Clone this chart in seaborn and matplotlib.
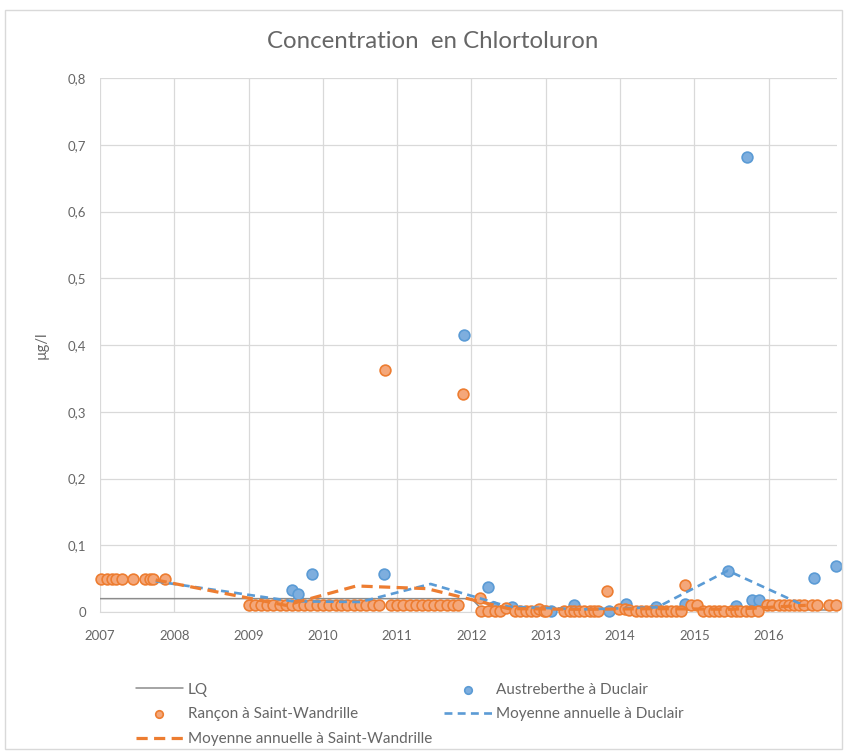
import numpy as np
import pandas as pd
import matplotlib.pyplot as plt
import seaborn as sns
from matplotlib.patches import Rectangle

# --- data (decimal years, µg/l) ---
rancon_x = [2007.02, 2007.09, 2007.16, 2007.22, 2007.29, 2007.45, 2007.60, 2007.67, 2007.71, 2007.87,
            2009.00, 2009.08, 2009.17, 2009.25, 2009.33, 2009.42, 2009.50, 2009.58, 2009.67, 2009.75,
            2009.83, 2009.92, 2010.00, 2010.08, 2010.17, 2010.25, 2010.33, 2010.42, 2010.50, 2010.58,
            2010.67, 2010.75, 2010.83, 2010.92, 2011.00, 2011.08, 2011.17, 2011.25, 2011.33, 2011.42,
            2011.50, 2011.58, 2011.67, 2011.75, 2011.82, 2011.89,
            2012.11, 2012.13, 2012.22, 2012.31, 2012.38, 2012.47, 2012.58, 2012.65, 2012.74, 2012.80,
            2012.87, 2012.91, 2012.98, 2013.00, 2013.25, 2013.32, 2013.38, 2013.45, 2013.52, 2013.59,
            2013.65, 2013.70, 2013.83, 2013.99, 2014.06, 2014.12, 2014.21, 2014.28, 2014.35, 2014.41,
            2014.48, 2014.55, 2014.62, 2014.68, 2014.75, 2014.82, 2014.88, 2014.95, 2015.04, 2015.11,
            2015.20, 2015.27, 2015.33, 2015.40, 2015.49, 2015.56, 2015.62, 2015.69, 2015.76, 2015.85,
            2015.98, 2016.05, 2016.14, 2016.21, 2016.27, 2016.34, 2016.41, 2016.48, 2016.59, 2016.65,
            2016.81, 2016.90]
rancon_y = [0.05, 0.05, 0.05, 0.05, 0.05, 0.05, 0.05, 0.05, 0.05, 0.05,
            0.01, 0.01, 0.01, 0.01, 0.01, 0.01, 0.01, 0.01, 0.01, 0.01,
            0.01, 0.01, 0.01, 0.01, 0.01, 0.01, 0.01, 0.01, 0.01, 0.01,
            0.01, 0.01, 0.363, 0.01, 0.01, 0.01, 0.01, 0.01, 0.01, 0.01,
            0.01, 0.01, 0.01, 0.01, 0.01, 0.327,
            0.021, 0.002, 0.002, 0.002, 0.002, 0.006, 0.002, 0.002, 0.002, 0.002,
            0.002, 0.004, 0.002, 0.002, 0.002, 0.002, 0.002, 0.002, 0.002, 0.002,
            0.002, 0.002, 0.032, 0.005, 0.005, 0.003, 0.002, 0.002, 0.002, 0.002,
            0.002, 0.002, 0.002, 0.002, 0.002, 0.002, 0.040, 0.011, 0.011, 0.002,
            0.002, 0.002, 0.002, 0.002, 0.002, 0.002, 0.002, 0.002, 0.002, 0.002,
            0.010, 0.010, 0.010, 0.010, 0.010, 0.010, 0.010, 0.010, 0.010, 0.010,
            0.010, 0.010]

duclair_x = [2009.59, 2009.67, 2009.85, 2010.82, 2011.90, 2012.22, 2012.29, 2012.55, 2013.07,
             2013.38, 2013.85, 2014.08, 2014.48, 2014.88, 2015.45, 2015.56, 2015.71, 2015.78,
             2015.87, 2016.61, 2016.90]
duclair_y = [0.033, 0.027, 0.057, 0.057, 0.415, 0.038, 0.008, 0.008, 0.001,
             0.010, 0.001, 0.012, 0.008, 0.012, 0.061, 0.009, 0.682, 0.018,
             0.018, 0.051, 0.069]

lq_x = [2007.0, 2012.0, 2012.15, 2016.9]
lq_y = [0.02, 0.02, 0.003, 0.003]

moy_duclair_x = [2007.75, 2009.6, 2010.5, 2011.45, 2012.5, 2013.5, 2014.5, 2015.45, 2016.45]
moy_duclair_y = [0.046, 0.016, 0.015, 0.042, 0.008, 0.004, 0.007, 0.062, 0.011]

moy_sw_x = [2007.75, 2009.5, 2010.45, 2011.4, 2012.5, 2013.5, 2014.5, 2015.5, 2016.5]
moy_sw_y = [0.048, 0.010, 0.039, 0.035, 0.005, 0.004, 0.005, 0.004, 0.010]

years = list(range(2007, 2017))
ytick_vals = [0, 0.1, 0.2, 0.3, 0.4, 0.5, 0.6, 0.7, 0.8]
ytick_labels = ['0', '0,1', '0,2', '0,3', '0,4', '0,5', '0,6', '0,7', '0,8']

BLUE = '#5B9BD5'
ORANGE = '#ED7D31'
TXT = '#666666'

sns.set_style('white')
plt.rcParams['font.family'] = ['Lato', 'DejaVu Sans']

fig = plt.figure(figsize=(8.45, 7.51), dpi=100)
ax = fig.add_axes([100 / 845, 1 - 612 / 751, 737 / 845, 534 / 751])

sns.lineplot(x=lq_x, y=lq_y, ax=ax, color='#8C8C8C', lw=1.1, sort=False,
             estimator=None, label='LQ', zorder=2)
sns.scatterplot(x=duclair_x, y=duclair_y, ax=ax, s=60, color='#7EAEDE', edgecolor=BLUE,
                linewidth=1.2, label='Austreberthe à Duclair', zorder=3, clip_on=False)
sns.scatterplot(x=rancon_x, y=rancon_y, ax=ax, s=60, color='#F4A77A', edgecolor=ORANGE,
                linewidth=1.2, label='Rançon à Saint-Wandrille', zorder=4, clip_on=False)
sns.lineplot(x=moy_duclair_x, y=moy_duclair_y, ax=ax, color=BLUE, lw=1.9, sort=False,
             estimator=None, dashes=False, label='Moyenne annuelle à Duclair', zorder=5)
sns.lineplot(x=moy_sw_x, y=moy_sw_y, ax=ax, color=ORANGE, lw=2.3, sort=False,
             estimator=None, dashes=False, label='Moyenne annuelle à Saint-Wandrille', zorder=6)
ax.lines[1].set_dashes([3, 2])
ax.lines[2].set_dashes([3.5, 2])

ax.set_xlim(2007, 2016.92)
ax.set_ylim(0, 0.8)
ax.set_xticks(years)
ax.set_xticklabels([str(y) for y in years])
ax.set_yticks(ytick_vals)
ax.set_yticklabels(ytick_labels)
ax.tick_params(axis='both', length=0, labelcolor=TXT, labelsize=9.5)
ax.tick_params(axis='x', pad=13)
ax.tick_params(axis='y', pad=10)
ax.grid(True, color='#D9D9D9', lw=0.9)
ax.set_axisbelow(True)
for side in ['top', 'right', 'left']:
    ax.spines[side].set_visible(False)
ax.spines['bottom'].set_color('#D9D9D9')
ax.set_ylabel('µg/l', color=TXT, fontsize=10.5, labelpad=14)
ax.set_xlabel('')

fig.text(433 / 845, 1 - 42 / 751, 'Concentration  en Chlortoluron', ha='center', va='center',
         fontsize=17.3, color=TXT)

handles, labels = ax.get_legend_handles_labels()
ax.get_legend().remove()
order = [0, 2, 4, 1, 3]
fig.legend([handles[i] for i in order], [labels[i] for i in order], ncol=2,
           loc='upper left', bbox_to_anchor=(122 / 845, 1 - 669 / 751), frameon=False,
           fontsize=11, labelcolor=TXT, handlelength=3.1, handletextpad=0.3,
           columnspacing=0.8, labelspacing=0.7, markerscale=0.7)

fig.patches.append(Rectangle((5 / 845, 2 / 751), 837 / 845, 739 / 751, transform=fig.transFigure,
                             fill=False, edgecolor='#D9D9D9', lw=1))

fig.savefig('out.png', dpi=100)
